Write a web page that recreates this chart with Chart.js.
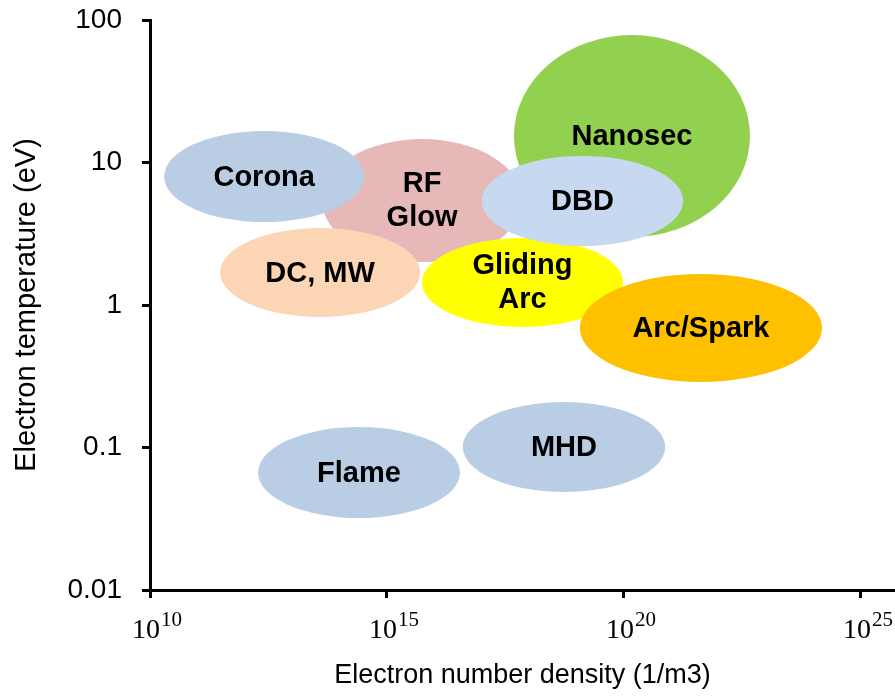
<!DOCTYPE html>
<html>
<head>
<meta charset="utf-8">
<script src="https://cdn.jsdelivr.net/npm/chart.js@4.4.1/dist/chart.umd.min.js"></script>
<style>
html,body{margin:0;padding:0;background:#fff;}
#wrap{width:895px;height:696px;position:relative;}
</style>
</head>
<body>
<div id="wrap"><canvas id="c"></canvas></div>
<script>
// Plasma regions (drawing order), ranges
const regionNames   = ['Nanosec', 'RF\nGlow', 'Corona', 'DC, MW', 'Gliding\nArc', 'DBD', 'Arc/Spark', 'MHD', 'Flame'];
// electron number density range, as log10(1/m3)
const densityExpMin = [17.68, 13.63, 10.30, 11.48, 15.74, 17.00, 19.07, 16.60, 12.28];
const densityExpMax = [22.66, 17.85, 14.52, 15.70, 19.98, 21.25, 24.18, 20.87, 16.54];
// electron temperature range, as log10(eV)
const tempExpMin    = [0.477, 0.302, 0.582, -0.084, -0.154, 0.414, -0.540, -1.312, -1.495];
const tempExpMax    = [1.895, 1.165, 1.221,  0.540,  0.470, 1.046,  0.218, -0.681, -0.856];
const regionColors  = ['#92D050', '#E6B9B8', '#B9CDE5', '#FCD5B5', '#FFFF00', '#C6D9F1', '#FFC000', '#B9CDE5', '#B9CDE5'];

const xTickExps = [10, 15, 20, 25];
const yTickValues = [0.01, 0.1, 1, 10, 100];
const xTitle = 'Electron number density (1/m3)';
const yTitle = 'Electron temperature (eV)';

const centers = regionNames.map((n, i) => ({
  x: Math.pow(10, (densityExpMin[i] + densityExpMax[i]) / 2),
  y: Math.pow(10, (tempExpMin[i] + tempExpMax[i]) / 2)
}));

const ellipsePlugin = {
  id: 'ellipses',
  beforeDatasetsDraw(chart) {
    const ctx = chart.ctx, xs = chart.scales.x, ys = chart.scales.y;
    ctx.save();
    const geo = [];
    regionNames.forEach((name, i) => {
      const x1 = xs.getPixelForValue(Math.pow(10, densityExpMin[i]));
      const x2 = xs.getPixelForValue(Math.pow(10, densityExpMax[i]));
      const y1 = ys.getPixelForValue(Math.pow(10, tempExpMin[i]));
      const y2 = ys.getPixelForValue(Math.pow(10, tempExpMax[i]));
      const cx = (x1 + x2) / 2, cy = (y1 + y2) / 2;
      ctx.beginPath();
      ctx.ellipse(cx, cy, Math.abs(x2 - x1) / 2, Math.abs(y2 - y1) / 2, 0, 0, Math.PI * 2);
      ctx.fillStyle = regionColors[i];
      ctx.fill();
      geo.push({cx, cy});
    });
    ctx.fillStyle = '#000';
    ctx.font = 'bold 29px Arial, "Liberation Sans", sans-serif';
    ctx.textAlign = 'center';
    ctx.textBaseline = 'middle';
    regionNames.forEach((name, i) => {
      const lines = name.split('\n');
      const lh = 34;
      const y0 = geo[i].cy - (lines.length - 1) * lh / 2;
      lines.forEach((ln, k) => ctx.fillText(ln, geo[i].cx, y0 + k * lh + 1));
    });
    ctx.restore();
  },
  afterDraw(chart) {
    const ctx = chart.ctx, xs = chart.scales.x;
    ctx.save();
    ctx.fillStyle = '#000';
    ctx.textBaseline = 'alphabetic';
    xTickExps.forEach(e => {
      const px = xs.getPixelForValue(Math.pow(10, e));
      ctx.font = '28px "Liberation Serif", "DejaVu Serif", serif';
      ctx.textAlign = 'right';
      ctx.fillText('10', px + 10, 638);
      ctx.font = '21px "Liberation Serif", "DejaVu Serif", serif';
      ctx.textAlign = 'left';
      ctx.fillText(String(e), px + 11, 626);
    });
    ctx.restore();
  }
};

new Chart(document.getElementById('c'), {
  type: 'scatter',
  data: {
    datasets: [{
      data: centers,
      pointRadius: 0,
      pointHoverRadius: 0,
      showLine: false
    }]
  },
  options: {
    responsive: true,
    maintainAspectRatio: false,
    animation: false,
    devicePixelRatio: 1,
    layout: {padding: {top: 20, right: 0, left: 0, bottom: 0}},
    plugins: {legend: {display: false}, tooltip: {enabled: false}},
    scales: {
      x: {
        type: 'logarithmic',
        min: 1e10,
        max: Math.pow(10, 25.72),
        afterBuildTicks: s => { s.ticks = xTickExps.map(e => ({value: Math.pow(10, e)})); },
        afterFit: s => { s.height = 106; s.paddingLeft = 0; s.paddingRight = 0; },
        ticks: {callback: () => '', autoSkip: false, maxRotation: 0, font: {size: 10}},
        grid: {drawOnChartArea: false, drawTicks: true, tickLength: 8, color: '#000', lineWidth: 3},
        border: {display: true, color: '#000', width: 3},
        title: {display: true, text: xTitle, color: '#000',
                font: {family: 'Arial, "Liberation Sans", sans-serif', size: 27},
                padding: {top: 0, bottom: 4}}
      },
      y: {
        type: 'logarithmic',
        min: 0.01,
        max: 100,
        afterBuildTicks: s => { s.ticks = yTickValues.map(v => ({value: v})); },
        afterFit: s => { s.width = 150; s.paddingTop = 0; s.paddingBottom = 0; },
        ticks: {callback: v => String(v), autoSkip: false, color: '#000', padding: 20,
                font: {family: 'Arial, "Liberation Sans", sans-serif', size: 28}},
        grid: {drawOnChartArea: false, drawTicks: true, tickLength: 8, color: '#000', lineWidth: 3},
        border: {display: true, color: '#000', width: 3},
        title: {display: true, text: yTitle, color: '#000',
                font: {family: 'Arial, "Liberation Sans", sans-serif', size: 29},
                padding: {top: 10, bottom: 0}}
      }
    }
  },
  plugins: [ellipsePlugin]
});
</script>
</body>
</html>
